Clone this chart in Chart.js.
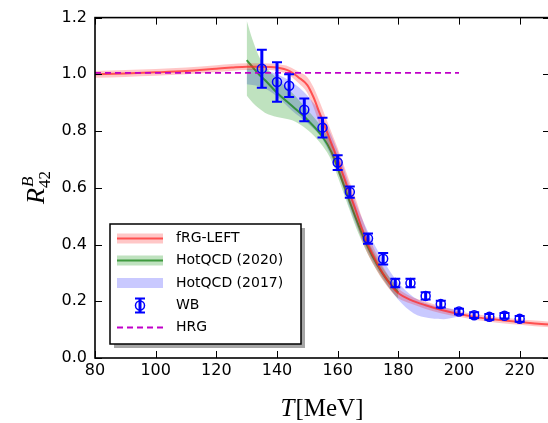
<!DOCTYPE html>
<html>
<head>
<meta charset="utf-8">
<script src="https://cdn.jsdelivr.net/npm/chart.js@4.4.1/dist/chart.umd.min.js"></script>
<style>
  html, body { margin: 0; padding: 0; background: #fff; overflow: hidden; }
  canvas { display: block; }
</style>
</head>
<body>
<canvas id="r42Chart" width="556" height="423"></canvas>
<script>
// Tick labels
const xTicks = [80, 100, 120, 140, 160, 180, 200, 220];
const yTicks = [0, 0.2, 0.4, 0.6, 0.8, 1.0, 1.2];

// fRG-LEFT (line + band)
const frgT = [80, 90, 100, 110, 120, 125, 130, 135, 140, 144, 147, 150, 152, 154, 156, 158, 160, 162, 164, 166, 168, 170, 172, 174, 176, 178, 180, 184, 189, 194, 200, 205, 210, 215, 220, 225, 230];
const frgMid = [1.0, 1.003, 1.007, 1.012, 1.02, 1.024, 1.027, 1.027, 1.024, 1.012, 0.99, 0.962, 0.92, 0.865, 0.81, 0.755, 0.7, 0.64, 0.58, 0.52, 0.455, 0.4, 0.355, 0.315, 0.28, 0.25, 0.228, 0.205, 0.186, 0.17, 0.155, 0.145, 0.138, 0.132, 0.127, 0.122, 0.118];
const frgUp = [1.012, 1.015, 1.019, 1.024, 1.032, 1.036, 1.039, 1.039, 1.036, 1.027, 1.01, 0.99, 0.955, 0.905, 0.85, 0.795, 0.74, 0.68, 0.62, 0.56, 0.495, 0.435, 0.385, 0.342, 0.303, 0.27, 0.245, 0.218, 0.199, 0.182, 0.165, 0.155, 0.148, 0.142, 0.137, 0.132, 0.128];
const frgLow = [0.988, 0.991, 0.995, 1.0, 1.008, 1.012, 1.015, 1.015, 1.012, 0.997, 0.97, 0.934, 0.885, 0.825, 0.77, 0.715, 0.66, 0.6, 0.54, 0.48, 0.415, 0.365, 0.325, 0.288, 0.257, 0.23, 0.211, 0.192, 0.173, 0.158, 0.145, 0.135, 0.128, 0.122, 0.117, 0.112, 0.108];

// HotQCD (2020)
const hq20T = [130, 132, 134, 136, 140, 145, 150, 155, 158, 161, 164, 167, 170, 173, 176, 180];
const hq20Mid = [1.05, 1.025, 1.0, 0.98, 0.935, 0.888, 0.84, 0.78, 0.725, 0.64, 0.55, 0.465, 0.39, 0.33, 0.28, 0.23];
const hq20Up = [1.19, 1.12, 1.065, 1.03, 0.985, 0.935, 0.875, 0.81, 0.755, 0.67, 0.58, 0.495, 0.415, 0.352, 0.3, 0.25];
const hq20Low = [0.925, 0.9, 0.88, 0.865, 0.85, 0.838, 0.805, 0.748, 0.695, 0.61, 0.52, 0.435, 0.365, 0.308, 0.26, 0.208];

// HotQCD (2017) band
const hq17T = [130, 135, 140, 145, 150, 155, 160, 165, 170, 175, 180, 185, 190, 195, 200];
const hq17Up = [1.02, 1.017, 1.0, 0.972, 0.925, 0.85, 0.73, 0.575, 0.445, 0.345, 0.265, 0.215, 0.19, 0.177, 0.17];
const hq17Low = [0.965, 0.955, 0.922, 0.872, 0.828, 0.77, 0.655, 0.5, 0.375, 0.28, 0.205, 0.158, 0.141, 0.137, 0.146];

// WB points
const wbT = [135, 140, 144, 149, 155, 160, 164, 170, 175, 179, 184, 189, 194, 200, 205, 210, 215, 220];
const wbR = [1.02, 0.973, 0.96, 0.875, 0.812, 0.689, 0.585, 0.421, 0.35, 0.264, 0.264, 0.219, 0.19, 0.164, 0.151, 0.145, 0.149, 0.138];
const wbErr = [0.067, 0.07, 0.04, 0.04, 0.035, 0.026, 0.02, 0.018, 0.02, 0.015, 0.015, 0.013, 0.012, 0.01, 0.01, 0.01, 0.01, 0.01];

// HRG
const hrgT = [80, 200];
const hrgR = [1.005, 1.005];

const seriesNames = ['fRG-LEFT', 'HotQCD (2020)', 'HotQCD (2017)', 'WB', 'HRG'];

function pts(xs, ys) {
    return xs.map((x, i) => ({ x: x, y: ys[i] }));
}

const RED_LINE = 'rgba(255, 40, 40, 0.75)';
const RED_BAND = 'rgba(255, 0, 0, 0.22)';
const GREEN_LINE = 'rgba(20, 130, 20, 0.75)';
const GREEN_BAND = 'rgba(0, 140, 0, 0.25)';
const BLUE_BAND = 'rgba(40, 40, 255, 0.25)';
const WB_BLUE = '#0000ff';
const HRG_COLOR = '#c000c8';

// inward ticks, spines, error bars, axis titles, legend
const decorPlugin = {
    id: 'decor',
    afterDatasetsDraw(chart) {
        const ctx = chart.ctx;
        const xs = chart.scales.x, ys = chart.scales.y;
        ctx.save();
        ctx.strokeStyle = WB_BLUE;
        wbT.forEach((t, i) => {
            const px = xs.getPixelForValue(t);
            const top = ys.getPixelForValue(wbR[i] + wbErr[i]);
            const bot = ys.getPixelForValue(wbR[i] - wbErr[i]);
            ctx.lineWidth = 3;
            ctx.beginPath();
            ctx.moveTo(px, top);
            ctx.lineTo(px, bot);
            ctx.stroke();
            ctx.lineWidth = 2;
            ctx.beginPath();
            ctx.moveTo(px - 5, top);
            ctx.lineTo(px + 5, top);
            ctx.moveTo(px - 5, bot);
            ctx.lineTo(px + 5, bot);
            ctx.stroke();
        });
        ctx.restore();
    },
    afterDraw(chart) {
        const ctx = chart.ctx;
        const a = chart.chartArea;
        const xs = chart.scales.x, ys = chart.scales.y;
        ctx.save();
        // spines
        ctx.strokeStyle = '#000';
        ctx.lineWidth = 1.6;
        ctx.strokeRect(a.left, a.top, a.right - a.left, a.bottom - a.top);
        // inward ticks
        ctx.lineWidth = 1;
        ctx.beginPath();
        xTicks.forEach(v => {
            const p = Math.round(xs.getPixelForValue(v)) + 0.5;
            ctx.moveTo(p, a.bottom); ctx.lineTo(p, a.bottom - 7);
            ctx.moveTo(p, a.top); ctx.lineTo(p, a.top + 7);
        });
        yTicks.forEach(v => {
            const p = Math.round(ys.getPixelForValue(v)) + 0.5;
            ctx.moveTo(a.left, p); ctx.lineTo(a.left + 7, p);
            ctx.moveTo(a.right, p); ctx.lineTo(a.right - 7, p);
        });
        ctx.stroke();

        // x title: T[MeV]
        ctx.fillStyle = '#000';
        ctx.textBaseline = 'alphabetic';
        ctx.textAlign = 'left';
        const fIt = 'italic 25px "Liberation Serif", "DejaVu Serif", serif';
        const fUp = '25px "Liberation Serif", "DejaVu Serif", serif';
        ctx.font = fIt;
        const wT = ctx.measureText('T').width;
        ctx.font = fUp;
        const wM = ctx.measureText('[MeV]').width;
        let x0 = 322 - (wT + wM + 1) / 2;
        ctx.font = fIt;
        ctx.fillText('T', x0, 416);
        ctx.font = fUp;
        ctx.fillText('[MeV]', x0 + wT + 1, 416);

        // y title: R^B_42
        ctx.save();
        ctx.translate(44, 188);
        ctx.rotate(-Math.PI / 2);
        ctx.font = 'italic 26px "Liberation Serif", "DejaVu Serif", serif';
        const wR = ctx.measureText('R').width;
        const startX = -(wR + 16) / 2;
        ctx.fillText('R', startX, 0);
        ctx.font = 'italic 17px "Liberation Serif", "DejaVu Serif", serif';
        ctx.fillText('B', startX + wR + 1, -11);
        ctx.font = '17px "Liberation Serif", "DejaVu Serif", serif';
        ctx.fillText('42', startX + wR, 6);
        ctx.restore();

        // legend
        const bx = 110, by = 224, bw = 191, bh = 120;
        ctx.fillStyle = 'rgba(0, 0, 0, 0.35)';
        ctx.fillRect(bx + 4, by + 4, bw, bh);
        ctx.fillStyle = '#fff';
        ctx.fillRect(bx, by, bw, bh);
        ctx.strokeStyle = '#000';
        ctx.lineWidth = 1.5;
        ctx.strokeRect(bx, by, bw, bh);

        const rows = [238.5, 260.5, 283, 305.5, 327.5];
        const sx0 = 117, sx1 = 163;
        // fRG
        ctx.fillStyle = RED_BAND;
        ctx.fillRect(sx0, rows[0] - 5, sx1 - sx0, 10);
        ctx.strokeStyle = RED_LINE;
        ctx.lineWidth = 2;
        ctx.beginPath(); ctx.moveTo(sx0, rows[0]); ctx.lineTo(sx1, rows[0]); ctx.stroke();
        // HotQCD 2020
        ctx.fillStyle = GREEN_BAND;
        ctx.fillRect(sx0, rows[1] - 5, sx1 - sx0, 10);
        ctx.strokeStyle = GREEN_LINE;
        ctx.beginPath(); ctx.moveTo(sx0, rows[1]); ctx.lineTo(sx1, rows[1]); ctx.stroke();
        // HotQCD 2017
        ctx.fillStyle = BLUE_BAND;
        ctx.fillRect(sx0, rows[2] - 5, sx1 - sx0, 10);
        // WB
        const cx = 140;
        ctx.strokeStyle = WB_BLUE;
        ctx.lineWidth = 3;
        ctx.beginPath(); ctx.moveTo(cx, rows[3] - 7); ctx.lineTo(cx, rows[3] + 7); ctx.stroke();
        ctx.lineWidth = 2;
        ctx.beginPath();
        ctx.moveTo(cx - 5, rows[3] - 7); ctx.lineTo(cx + 5, rows[3] - 7);
        ctx.moveTo(cx - 5, rows[3] + 7); ctx.lineTo(cx + 5, rows[3] + 7);
        ctx.stroke();
        ctx.lineWidth = 1.5;
        ctx.beginPath(); ctx.arc(cx, rows[3], 4.5, 0, Math.PI * 2); ctx.stroke();
        // HRG
        ctx.strokeStyle = HRG_COLOR;
        ctx.lineWidth = 1.8;
        ctx.setLineDash([6, 4]);
        ctx.beginPath(); ctx.moveTo(sx0, rows[4]); ctx.lineTo(sx1, rows[4]); ctx.stroke();
        ctx.setLineDash([]);

        ctx.fillStyle = '#000';
        ctx.font = '14px "DejaVu Sans", sans-serif';
        ctx.textBaseline = 'middle';
        seriesNames.forEach((n, i) => ctx.fillText(n, 176, rows[i]));
        ctx.restore();
    }
};

const ctx = document.getElementById('r42Chart').getContext('2d');
const r42Chart = new Chart(ctx, {
    type: 'line',
    data: {
        datasets: [
            {
                label: seriesNames[4], data: pts(hrgT, hrgR), order: 1,
                borderColor: HRG_COLOR, borderWidth: 1.8, borderDash: [6, 4],
                pointRadius: 0, fill: false
            },
            {
                label: seriesNames[3], data: pts(wbT, wbR), order: 0, showLine: false,
                pointRadius: 4.5, pointBorderWidth: 1.5, pointBorderColor: WB_BLUE,
                pointBackgroundColor: 'rgba(0,0,0,0)', borderColor: WB_BLUE
            },
            {
                label: seriesNames[0], data: pts(frgT, frgMid), order: 2,
                borderColor: RED_LINE, borderWidth: 2, pointRadius: 0,
                cubicInterpolationMode: 'monotone', fill: false
            },
            {
                label: 'frgUp', data: pts(frgT, frgUp), order: 3,
                borderWidth: 0, pointRadius: 0, cubicInterpolationMode: 'monotone',
                backgroundColor: RED_BAND, fill: '+1'
            },
            {
                label: 'frgLow', data: pts(frgT, frgLow), order: 3,
                borderWidth: 0, pointRadius: 0, cubicInterpolationMode: 'monotone', fill: false
            },
            {
                label: seriesNames[1], data: pts(hq20T, hq20Mid), order: 4,
                borderColor: GREEN_LINE, borderWidth: 2, pointRadius: 0,
                cubicInterpolationMode: 'monotone', fill: false
            },
            {
                label: 'hq20Up', data: pts(hq20T, hq20Up), order: 5,
                borderWidth: 0, pointRadius: 0, cubicInterpolationMode: 'monotone',
                backgroundColor: GREEN_BAND, fill: '+1'
            },
            {
                label: 'hq20Low', data: pts(hq20T, hq20Low), order: 5,
                borderWidth: 0, pointRadius: 0, cubicInterpolationMode: 'monotone', fill: false
            },
            {
                label: seriesNames[2], data: pts(hq17T, hq17Up), order: 6,
                borderWidth: 0, pointRadius: 0, cubicInterpolationMode: 'monotone',
                backgroundColor: BLUE_BAND, fill: '+1'
            },
            {
                label: 'hq17Low', data: pts(hq17T, hq17Low), order: 6,
                borderWidth: 0, pointRadius: 0, cubicInterpolationMode: 'monotone', fill: false
            }
        ]
    },
    options: {
        responsive: false,
        animation: false,
        devicePixelRatio: 1,
        layout: { padding: { top: 12, right: 4, left: 0, bottom: 0 } },
        plugins: { legend: { display: false }, tooltip: { enabled: false } },
        scales: {
            x: {
                type: 'linear', min: 80, max: 230,
                afterBuildTicks(s) { s.ticks = xTicks.map(v => ({ value: v })); },
                afterFit(s) { s.height = 65; },
                grid: { display: false, drawTicks: false },
                border: { display: false },
                ticks: {
                    color: '#000', padding: 3, maxRotation: 0, autoSkip: false,
                    font: { family: 'DejaVu Sans', size: 16 }
                }
            },
            y: {
                type: 'linear', min: 0, max: 1.2,
                afterBuildTicks(s) { s.ticks = yTicks.map(v => ({ value: v })); },
                afterFit(s) { s.width = 95; },
                grid: { display: false, drawTicks: false },
                border: { display: false },
                ticks: {
                    color: '#000', padding: 8, autoSkip: false,
                    font: { family: 'DejaVu Sans', size: 16 },
                    callback: v => v.toFixed(1)
                }
            }
        }
    },
    plugins: [decorPlugin]
});
</script>
</body>
</html>
